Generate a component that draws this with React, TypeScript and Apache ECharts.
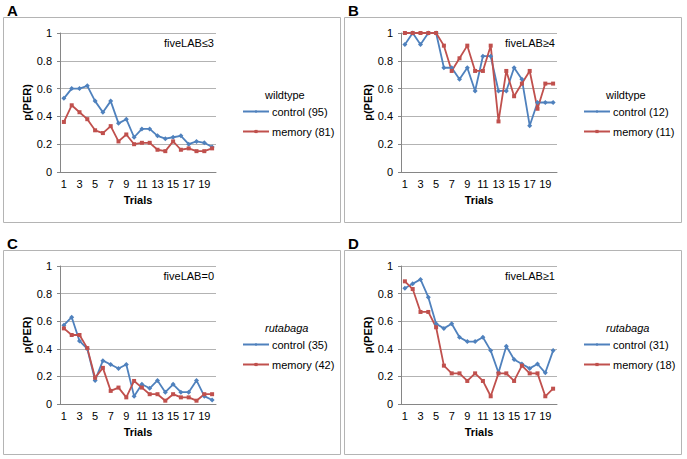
import React, { useEffect, useRef } from "react";
import * as echarts from "echarts";

const trials = ["1","2","3","4","5","6","7","8","9","10","11","12","13","14","15","16","17","18","19","20"];

const aControl = [0.53,0.60,0.60,0.62,0.51,0.43,0.51,0.35,0.38,0.25,0.31,0.31,0.26,0.24,0.25,0.26,0.20,0.22,0.21,0.18];
const aMemory = [0.36,0.48,0.43,0.38,0.30,0.28,0.33,0.22,0.27,0.20,0.21,0.21,0.16,0.15,0.22,0.16,0.17,0.15,0.15,0.17];

const bControl = [0.917,1,0.917,1,1,0.75,0.75,0.667,0.75,0.583,0.833,0.833,0.583,0.583,0.75,0.667,0.333,0.5,0.5,0.5];
const bMemory = [1,1,1,1,1,0.909,0.727,0.818,0.909,0.727,0.727,0.909,0.364,0.727,0.545,0.636,0.727,0.455,0.636,0.636];

const cControl = [0.571,0.629,0.457,0.4,0.171,0.314,0.286,0.257,0.286,0.057,0.143,0.114,0.171,0.086,0.143,0.086,0.086,0.171,0.057,0.029];
const cMemory = [0.548,0.5,0.5,0.405,0.19,0.262,0.095,0.119,0.048,0.167,0.119,0.071,0.071,0.024,0.071,0.048,0.048,0.024,0.071,0.071];

const dControl = [0.839,0.871,0.903,0.774,0.581,0.548,0.581,0.484,0.452,0.452,0.484,0.387,0.226,0.419,0.323,0.29,0.258,0.29,0.226,0.387];
const dMemory = [0.889,0.833,0.667,0.667,0.556,0.278,0.222,0.222,0.167,0.222,0.167,0.056,0.222,0.222,0.167,0.278,0.222,0.222,0.056,0.111];

const panelLetters = ["A", "B", "C", "D"];
const genotypes = ["wildtype", "wildtype", "rutabaga", "rutabaga"];
const conditions = ["fiveLAB\u22643", "fiveLAB\u22654", "fiveLAB=0", "fiveLAB\u22651"];
const controlNames = ["control (95)", "control (12)", "control (35)", "control (31)"];
const memoryNames = ["memory (81)", "memory (11)", "memory (42)", "memory (18)"];
const controlData = [aControl, bControl, cControl, dControl];
const memoryData = [aMemory, bMemory, cMemory, dMemory];

const BLUE = "#4F81BD";
const RED = "#C0504D";
const FONT = "Liberation Sans, Arial, sans-serif";

export default function App() {
  const ref = useRef<HTMLDivElement>(null);
  useEffect(() => {
    if (!ref.current) return;
    const chart = echarts.init(ref.current, undefined, { renderer: "svg" });
    const offX = [0, 341, 0, 341];
    const offY = [0, 0, 233, 233];
    const grids: any[] = [];
    const xAxes: any[] = [];
    const yAxes: any[] = [];
    const series: any[] = [];
    const legends: any[] = [];
    const graphics: any[] = [];
    for (let i = 0; i < 4; i++) {
      const ox = offX[i];
      const oy = offY[i];
      grids.push({ left: 60 + ox, top: 33 + oy, width: 156, height: 139 - (i >= 2 ? 1 : 0) });
      xAxes.push({
        type: "category",
        gridIndex: i,
        data: trials,
        boundaryGap: true,
        name: "Trials",
        nameLocation: "middle",
        nameGap: 22,
        nameTextStyle: { fontFamily: FONT, fontSize: 11, fontWeight: "bold", color: "#000" },
        axisLine: { show: true, lineStyle: { color: "#868686", width: 1 } },
        axisTick: { show: false },
        axisLabel: { interval: 1, margin: 6, fontFamily: FONT, fontSize: 11, color: "#000" },
        splitLine: { show: false },
      });
      yAxes.push({
        type: "value",
        gridIndex: i,
        min: 0,
        max: 1,
        interval: 0.2,
        name: "p(PER)",
        nameLocation: "middle",
        nameGap: 24,
        nameTextStyle: { fontFamily: FONT, fontSize: 11, fontWeight: "bold", color: "#000" },
        axisLine: { show: true, lineStyle: { color: "#868686", width: 1 } },
        axisTick: { show: true, length: 3, lineStyle: { color: "#868686" } },
        axisLabel: { margin: 8, fontFamily: FONT, fontSize: 11, color: "#000" },
        splitLine: { show: true, lineStyle: { color: "#b3b3b3", width: 1 } },
      });
      series.push({
        type: "line",
        name: controlNames[i],
        xAxisIndex: i,
        yAxisIndex: i,
        data: controlData[i],
        symbol: "diamond",
        symbolSize: 5,
        color: BLUE,
        lineStyle: { color: BLUE, width: 1.8 },
        itemStyle: { color: BLUE },
      });
      series.push({
        type: "line",
        name: memoryNames[i],
        xAxisIndex: i,
        yAxisIndex: i,
        data: memoryData[i],
        symbol: "rect",
        symbolSize: 4,
        color: RED,
        lineStyle: { color: RED, width: 1.8 },
        itemStyle: { color: RED },
      });
      legends.push({
        data: [controlNames[i], memoryNames[i]],
        orient: "vertical",
        left: 237 + ox,
        top: 101 + oy,
        itemWidth: 26,
        itemHeight: 4,
        itemGap: 9,
        textStyle: { fontFamily: FONT, fontSize: 11, color: "#000", lineHeight: 11, padding: [0, 0, 0, -2] },
        selectedMode: false,
      });
      graphics.push({
        type: "rect",
        shape: { x: 3.5 + ox, y: 17.5 + oy, width: 337, height: 205 - (i >= 2 ? 1 : 0) },
        style: { fill: "none", stroke: "#b4b4b4", lineWidth: 1 },
        silent: true,
      });
      graphics.push({
        type: "text",
        x: 7 + ox,
        y: 10 + oy,
        style: { text: panelLetters[i], font: "bold 15px " + FONT, fill: "#000", verticalAlign: "middle", align: "left" },
      });
      graphics.push({
        type: "text",
        x: 265 + ox,
        y: 95 + oy,
        style: {
          text: genotypes[i],
          font: (i >= 2 ? "italic " : "") + "11px " + FONT,
          fill: "#000",
          verticalAlign: "middle",
          align: "left",
        },
      });
      graphics.push({
        type: "text",
        x: 214 + ox,
        y: 43 + oy,
        style: { text: conditions[i], font: "11px " + FONT, fill: "#000", verticalAlign: "middle", align: "right" },
      });
    }
    chart.setOption({
      animation: false,
      backgroundColor: "#fff",
      grid: grids,
      xAxis: xAxes,
      yAxis: yAxes,
      series,
      legend: legends,
      graphic: graphics,
    });
    return () => chart.dispose();
  }, []);
  return <div ref={ref} style={{ position: "fixed", left: 0, top: 0, width: 687, height: 459 }} />;
}
